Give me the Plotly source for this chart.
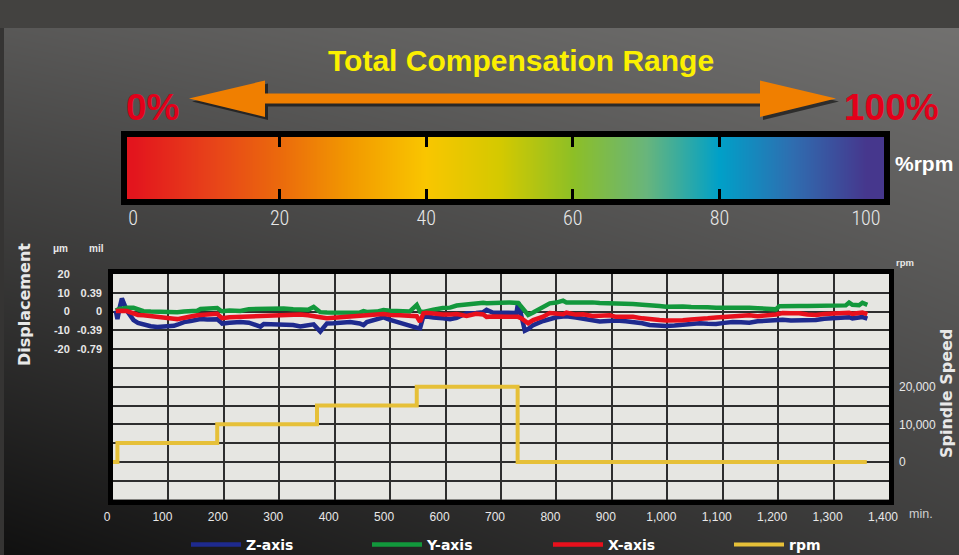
import plotly.graph_objects as go

W, H = 959, 555

# ------------------------------------------------------------------ data
minutes = [5, 8, 12, 16, 25, 37, 45, 55, 68, 80,
           98, 110, 116, 128, 140, 152, 158, 170, 188, 194,
           197, 210, 230, 245, 266, 272, 290, 308, 325, 338,
           352, 362, 374, 386, 398, 415, 428, 445, 452, 458,
           476, 488, 500, 518, 535, 548, 554, 560, 566, 578,
           595, 608, 620, 638, 655, 668, 674, 686, 700, 715,
           728, 731, 737, 743, 749, 758, 776, 788, 800, 812,
           818, 835, 848, 865, 878, 896, 908, 925, 938, 955,
           968, 986, 998, 1013, 1028, 1043, 1058, 1073, 1088, 1103,
           1118, 1133, 1148, 1163, 1178, 1196, 1202, 1208, 1223, 1238,
           1253, 1268, 1283, 1298, 1310, 1322, 1328, 1334, 1346, 1352,
           1361]

z_axis_um = [0.5, -4.0, 2.0, 7.0, 0.5, -4.5, -6.0, -7.0, -7.8, -8.2,
             -8.0, -7.6, -7.0, -5.6, -5.0, -4.3, -4.0, -4.2, -4.1, -5.5,
             -6.4, -6.0, -5.5, -5.9, -8.0, -6.6, -6.9, -6.8, -7.2, -7.9,
             -7.2, -6.8, -10.6, -6.3, -6.2, -6.0, -5.6, -6.3, -7.2, -5.6,
             -4.3, -3.1, -4.4, -6.3, -7.5, -8.6, -8.9, -2.4, -2.8, -3.1,
             -3.6, -4.1, -3.3, -0.9, -0.8, -0.3, 0.9, -0.6, -0.6, -0.7,
             -0.7, 5.0, -2.0, -10.2, -9.3, -7.2, -5.0, -3.7, -3.0, -2.6,
             -2.5, -3.2, -3.6, -4.6, -5.3, -5.0, -4.8, -5.2, -5.4, -6.2,
             -7.1, -7.6, -7.7, -7.4, -7.1, -6.6, -6.2, -6.5, -6.6, -6.0,
             -5.5, -5.7, -5.9, -5.2, -5.0, -4.7, -4.4, -4.4, -4.8, -4.8,
             -4.4, -4.5, -3.8, -3.4, -3.6, -3.1, -3.0, -3.6, -3.3, -2.9,
             -3.8]

y_axis_um = [0.5, 1.0, 1.5, 1.5, 2.0, 2.0, 1.0, 0.2, 0.0, -0.2,
             -0.3, -0.5, -0.4, 0.0, 0.2, 0.4, 1.4, 1.8, 1.9, 0.6,
             0.2, 0.6, 0.3, 1.3, 1.5, 1.0, 1.5, 1.6, 1.2, 0.9,
             1.0, 2.5, -0.3, -0.5, -0.6, -0.5, -0.3, -0.6, 0.2, -0.2,
             0.0, 0.8, 0.5, 0.2, 0.0, 3.5, 0.0, -0.2, 0.3, 1.0,
             1.9, 2.1, 3.2, 3.9, 4.2, 4.7, 4.5, 4.8, 4.7, 4.9,
             4.9, 4.6, 2.5, 0.3, -1.8, -0.5, 2.8, 4.4, 4.8, 5.8,
             4.9, 5.1, 4.8, 4.9, 4.6, 4.4, 4.8, 4.2, 4.0, 3.6,
             3.5, 3.0, 2.6, 2.8, 2.7, 2.4, 2.1, 2.3, 2.1, 2.2,
             2.0, 2.1, 2.0, 1.8, 1.5, 1.2, 2.9, 3.0, 3.0, 3.0,
             3.0, 3.1, 3.0, 3.2, 3.1, 3.3, 4.8, 3.6, 3.4, 4.7,
             3.6]

x_axis_um = [0.3, 0.5, 0.8, 0.5, 0.3, -1.0, -1.8, -2.0, -2.3, -2.5,
             -3.2, -3.8, -4.0, -3.0, -2.6, -2.0, -1.8, -1.5, -1.2, -2.8,
             -3.5, -3.0, -2.7, -2.5, -2.3, -2.4, -2.0, -1.8, -1.4, -1.5,
             -2.0, -2.2, -3.0, -3.5, -3.3, -3.2, -2.9, -2.7, -2.3, -2.4,
             -1.6, -1.3, -1.8, -1.9, -2.2, -2.5, -5.4, -0.9, -0.6, -1.2,
             -1.5, -1.5, -1.3, -2.3, -1.2, -1.5, -2.8, -2.6, -2.7, -2.6,
             -2.7, -2.8, -3.6, -5.0, -6.2, -4.5, -2.7, -0.8, -1.0, -1.4,
             -0.6, -1.6, -1.4, -2.3, -2.2, -2.0, -2.8, -2.5, -2.8, -3.6,
             -4.2, -4.5, -4.7, -4.8, -4.6, -4.2, -4.1, -3.6, -3.1, -2.9,
             -2.7, -2.6, -2.0, -2.5, -2.3, -1.5, -1.2, -0.8, -0.9, -0.9,
             -1.5, -1.8, -1.3, -1.1, -1.3, -1.0, -0.6, -1.2, -0.8, -0.5,
             -1.4]

rpm_minutes = [0, 8, 188, 368, 548, 730, 1360]
rpm_values = [0, 5000, 10000, 15000, 20000, 0, 0]

x_tick_values = [0, 100, 200, 300, 400, 500, 600, 700, 800, 900, 1000, 1100, 1200, 1300, 1400]
x_tick_labels = ["0", "100", "200", "300", "400", "500", "600", "700", "800", "900",
                 "1,000", "1,100", "1,200", "1,300", "1,400"]
um_grid_values = [-100, -90, -80, -70, -60, -50, -40, -30, -20, -10, 0, 10, 20]
um_labeled = [20, 10, 0, -10, -20]
mil_tick_values = [0.79, 0.39, 0, -0.39, -0.79]
mil_tick_labels = ["0.79", "0.39", "0", "-0.39", "-0.79"]
rpm_tick_values = [0, 10000, 20000]
rpm_tick_labels = ["0", "10,000", "20,000"]

pct_ticks = [0, 20, 40, 60, 80, 100]
pct_stops = [0.0, 0.1, 0.2, 0.3, 0.4, 0.5, 0.6, 0.7, 0.8, 0.9, 1.0]
pct_colors = ["#e3151d", "#e7401a", "#eb6a0c", "#f29b00", "#f9c600", "#d4c900",
              "#8dbf26", "#68b57c", "#00a0c8", "#2f6db0", "#46378d"]

bg_levels = [[16, 62], [92, 116]]   # bottom row, top row (grey level)

# ------------------------------------------------------------------ helpers
def px_x(p):
    return p / W


def px_y(p):
    return 1 - p / H


def path_from_px(points, dx=0, dy=0):
    parts = []
    for i, (x, y) in enumerate(points):
        parts.append(("M" if i == 0 else "L") + f"{px_x(x + dx):.5f},{px_y(y + dy):.5f}")
    return " ".join(parts) + " Z"


SANS = "Liberation Sans, Arial, sans-serif"
DEJAVU = "DejaVu Sans, sans-serif"
THIN = "Liberation Sans Narrow, Roboto Condensed, Roboto, sans-serif"

fig = go.Figure()

# background gradient
fig.add_trace(go.Heatmap(
    z=bg_levels, x=[0, 1], y=[0, 1], zsmooth="best", zmin=0, zmax=255,
    colorscale=[[0, "rgb(0,0,0)"], [1, "rgb(255,253,250)"]],
    showscale=False, hoverinfo="skip", xaxis="x", yaxis="y"))

# compensation colour bar
fig.add_trace(go.Heatmap(
    z=[pct_ticks, pct_ticks], x=pct_ticks, y=[0, 1], zsmooth="best", zmin=0, zmax=100,
    colorscale=[[s, c] for s, c in zip(pct_stops, pct_colors)],
    showscale=False, hoverinfo="skip", xaxis="x3", yaxis="y5"))

# displacement series
fig.add_trace(go.Scatter(x=minutes, y=z_axis_um, name="Z-axis", mode="lines",
                         line=dict(color="#1e2a8e", width=4.5), xaxis="x2", yaxis="y2"))
fig.add_trace(go.Scatter(x=minutes, y=y_axis_um, name="Y-axis", mode="lines",
                         line=dict(color="#12983c", width=4.5), xaxis="x2", yaxis="y2"))
fig.add_trace(go.Scatter(x=minutes, y=x_axis_um, name="X-axis", mode="lines",
                         line=dict(color="#e8101c", width=4.5), xaxis="x2", yaxis="y2"))
fig.add_trace(go.Scatter(x=rpm_minutes, y=rpm_values, name="rpm", mode="lines",
                         line=dict(color="#e6c038", width=4, shape="hv"),
                         xaxis="x2", yaxis="y3"))
# mil scale (same positions as μm scale)
fig.add_trace(go.Scatter(x=[], y=[], showlegend=False, hoverinfo="skip",
                         xaxis="x2", yaxis="y4"))

tick_grey = "#e8e8e8"

fig.update_layout(
    width=W, height=H, autosize=False,
    margin=dict(l=0, r=0, t=0, b=0, pad=0, autoexpand=False),
    paper_bgcolor="#3a3a3a", plot_bgcolor="#e6e6e2",
    xaxis=dict(domain=[0, 1], range=[0, 1], visible=False, fixedrange=True),
    yaxis=dict(domain=[0, 1], range=[0, 1], visible=False, fixedrange=True),
    xaxis2=dict(domain=[px_x(113), px_x(889)], range=[0, 1400], anchor="y2",
                tickmode="array", tickvals=x_tick_values, ticktext=x_tick_labels,
                ticks="", showgrid=True, gridcolor="#2e2e2e", gridwidth=1.6,
                showline=True, linecolor="black", linewidth=5, mirror=True,
                zeroline=False, ticklabelshift=-6, ticklabelstandoff=2,
                tickfont=dict(family=SANS, size=12, color=tick_grey)),
    yaxis2=dict(domain=[px_y(499.5), px_y(274)], range=[-100, 20], anchor="x2",
                tickmode="array", tickvals=um_grid_values,
                ticktext=[str(v) if v in um_labeled else "" for v in um_grid_values],
                ticks="", showgrid=True, gridcolor="#2e2e2e", gridwidth=1.6,
                showline=True, linecolor="black", linewidth=5, mirror=True,
                zeroline=False, ticklabelstandoff=36,
                tickfont=dict(family=SANS, size=11, color=tick_grey, weight="bold")),
    yaxis3=dict(overlaying="y2", side="right", anchor="x2", range=[-10000, 50000],
                tickmode="array", tickvals=rpm_tick_values, ticktext=rpm_tick_labels,
                ticks="", showgrid=False, zeroline=False, showline=False,
                ticklabelstandoff=9,
                tickfont=dict(family=SANS, size=12, color=tick_grey)),
    yaxis4=dict(overlaying="y2", side="left", anchor="x2",
                range=[-100 / 25.4, 20 / 25.4],
                tickmode="array", tickvals=mil_tick_values, ticktext=mil_tick_labels,
                ticks="", showgrid=False, zeroline=False, showline=False,
                ticklabelstandoff=10,
                tickfont=dict(family=SANS, size=11, color=tick_grey, weight="bold")),
    xaxis3=dict(domain=[px_x(127), px_x(884)], range=[-0.82, 102.46], anchor="y5",
                tickmode="array", tickvals=pct_ticks, ticktext=[str(v) for v in pct_ticks],
                ticks="", showgrid=False, zeroline=False,
                showline=True, linecolor="black", linewidth=6, mirror="ticks",
                minor=dict(tickmode="array", tickvals=[20, 40, 60, 80], ticks="inside",
                           ticklen=10, tickwidth=2.5, tickcolor="black", showgrid=False),
                ticklabelstandoff=-4,
                tickfont=dict(family=THIN, size=20, color=tick_grey, weight=300)),
    yaxis5=dict(domain=[px_y(199), px_y(137)], range=[0, 1], anchor="x3",
                showticklabels=False, ticks="", showgrid=False, zeroline=False,
                showline=True, linecolor="black", linewidth=6, mirror=True),
    legend=dict(orientation="h", x=px_x(186), xanchor="left", y=px_y(545),
                yanchor="middle", entrywidth=116, entrywidthmode="pixels",
                itemwidth=50, bgcolor="rgba(0,0,0,0)", tracegroupgap=0,
                font=dict(family=DEJAVU, size=14, color="white", weight="bold")),
)

# decorative shapes: top band, left strip, double arrow (with shadow)
arrow_px = [(189, 98.5), (265, 80.5), (265, 93.5), (760, 93.5), (760, 80.5),
            (836, 98.5), (760, 117), (760, 103.5), (265, 103.5), (265, 117)]
fig.add_shape(type="rect", xref="paper", yref="paper", x0=0, x1=1, y0=px_y(28), y1=1,
              fillcolor="#434240", line=dict(width=0), layer="above")
fig.add_shape(type="rect", xref="paper", yref="paper", x0=0, x1=px_x(4), y0=0, y1=px_y(28),
              fillcolor="#353433", line=dict(width=0), layer="above")
fig.add_shape(type="path", xref="paper", yref="paper", path=path_from_px(arrow_px, 3, 3),
              fillcolor="rgba(0,0,0,0.55)", line=dict(width=0), layer="above")
fig.add_shape(type="path", xref="paper", yref="paper", path=path_from_px(arrow_px),
              fillcolor="#f07f00", line=dict(width=0), layer="above")


def note(text, x, y, size, color, family=SANS, bold=True, angle=0, xanchor="center"):
    fig.add_annotation(text=text, x=px_x(x), y=px_y(y), xref="paper", yref="paper",
                       showarrow=False, textangle=angle, xanchor=xanchor, yanchor="middle",
                       font=dict(family=family, size=size, color=color,
                                 weight="bold" if bold else "normal"))


note("Total Compensation Range", 521, 60, 30, "#fbf000")
note("0%", 152, 107, 37, "#e2001a")
note("100%", 891, 107, 37, "#e2001a")
note("%rpm", 924, 163, 21, "white")
note("Displacement", 24, 305, 16, tick_grey, family=DEJAVU, angle=-90)
note("Spindle Speed", 946, 394, 16, tick_grey, family=DEJAVU, angle=-90)
note("μm", 60, 248, 10, tick_grey)
note("mil", 96, 248, 10, tick_grey)
note("rpm", 905, 262, 9.5, tick_grey)
note("min.", 921, 514, 12.5, "#cfcfcf", bold=False)

fig.write_html("out.html", config={"displayModeBar": False},
               post_script="document.body.style.margin='0';"
                           "document.body.style.overflow='hidden';")
